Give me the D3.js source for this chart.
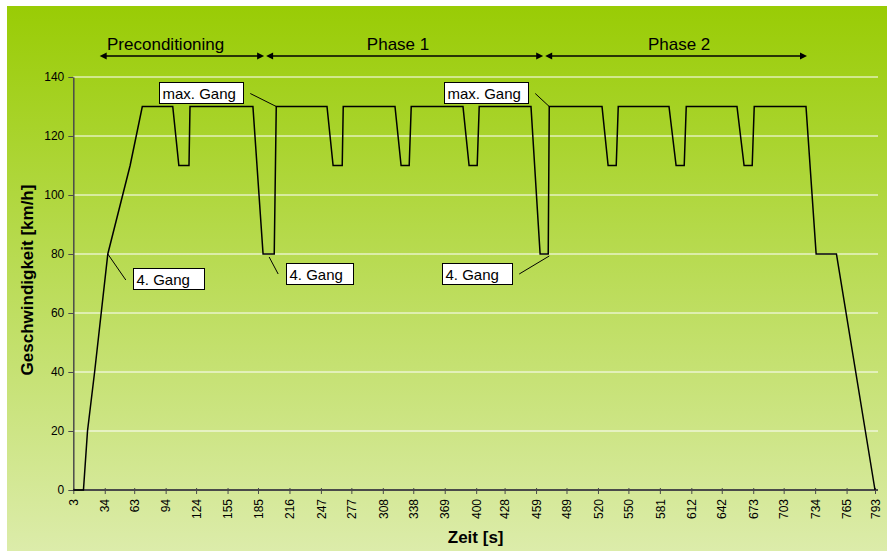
<!DOCTYPE html>
<html>
<head>
<meta charset="utf-8">
<script src="https://cdn.jsdelivr.net/npm/d3@7"></script>
<style>
  body { margin: 0; background: #fff; }
  svg { display: block; }
  text { font-family: Arial, "Liberation Sans", sans-serif; fill: #000; }
</style>
</head>
<body>
<svg id="chart" width="887" height="552"></svg>
<script>
// speed profile, time in s and speed in km/h
const times  = [3, 13, 17, 24, 37, 59, 71, 101, 107, 117, 118, 180, 190, 201, 203,
                253, 259, 268, 269, 320, 326, 334, 336, 387, 393, 401, 403, 454, 463, 471, 472,
                524, 530, 538, 540, 590, 597, 605, 607, 657, 664, 672, 674, 725, 735, 755, 793];
const speeds = [0, 0, 20, 40, 80, 110, 130, 130, 110, 110, 130, 130, 80, 80, 130,
                130, 110, 110, 130, 130, 110, 110, 130, 130, 110, 110, 130, 130, 80, 80, 130,
                130, 110, 110, 130, 130, 110, 110, 130, 130, 110, 110, 130, 130, 80, 80, 0];

const xTickLabels = [3, 34, 63, 94, 124, 155, 185, 216, 247, 277, 308, 338, 369, 400,
                     428, 459, 489, 520, 550, 581, 612, 642, 673, 703, 734, 765, 793];
const yTickLabels = [0, 20, 40, 60, 80, 100, 120, 140];

const phaseNames  = ["Preconditioning", "Phase 1", "Phase 2"];
const phaseStart  = [28, 192, 467];
const phaseEnd    = [192, 467, 727];
const phaseLabelT = [94, 323, 600];

const noteLabels = ["4. Gang", "max. Gang", "4. Gang", "max. Gang", "4. Gang"];
const noteTimes  = [37, 203, 196, 472, 471];
const noteSpeeds = [80, 130, 80, 130, 80];

const data = times.map((t, i) => ({ t: t, v: speeds[i] }));

const svg = d3.select("#chart");

// background gradient
const defs = svg.append("defs");
const grad = defs.append("linearGradient")
  .attr("id", "bg")
  .attr("x1", 0).attr("y1", 0).attr("x2", 0).attr("y2", 1);
grad.append("stop").attr("offset", "0%").attr("stop-color", "#99cc05");
grad.append("stop").attr("offset", "100%").attr("stop-color", "#dcecaa");

svg.append("rect")
  .attr("x", 7).attr("y", 6)
  .attr("width", 880).attr("height", 545)
  .attr("fill", "url(#bg)");

const x = d3.scaleLinear().domain([3, 793]).range([73.3, 875]);
const y = d3.scaleLinear().domain([0, 140]).range([490, 77]);
const plotRight = 878;

// gridlines
svg.append("g")
  .selectAll("line")
  .data(yTickLabels.filter(d => d > 0))
  .enter()
  .append("line")
  .attr("x1", x(3)).attr("x2", plotRight)
  .attr("y1", d => y(d)).attr("y2", d => y(d))
  .attr("stroke", "#ffffff")
  .attr("stroke-width", 1);

// y axis
const yAxis = svg.append("g")
  .attr("transform", `translate(${x(3)},0)`)
  .call(d3.axisLeft(y).tickValues(yTickLabels).tickSize(5).tickSizeOuter(0).tickPadding(4));

yAxis.select(".domain").attr("stroke", "#4a4a4a").attr("stroke-width", 1.5);
yAxis.selectAll(".tick line").attr("stroke", "#4a4a4a");
yAxis.selectAll("text")
  .style("font-size", "12px")
  .attr("fill", "#000");

// x axis
const xAxis = svg.append("g")
  .attr("transform", `translate(0,${y(0)})`)
  .call(d3.axisBottom(x).tickValues(xTickLabels).tickSize(4).tickSizeOuter(0));

xAxis.select(".domain")
  .attr("d", `M${x(3)},0H${plotRight}`)
  .attr("stroke", "#4a4a4a").attr("stroke-width", 2);
xAxis.selectAll(".tick line").attr("stroke", "#4a4a4a").attr("y1", -2);
xAxis.selectAll("text")
  .attr("transform", "rotate(-90)")
  .attr("x", -9)
  .attr("y", 0)
  .attr("dy", ".35em")
  .style("text-anchor", "end")
  .style("font-size", "12px")
  .attr("fill", "#000");

// speed line
const line = d3.line()
  .x(d => x(d.t))
  .y(d => y(d.v));

svg.append("path")
  .datum(data)
  .attr("d", line)
  .attr("fill", "none")
  .attr("stroke", "#000")
  .attr("stroke-width", 1.5)
  .attr("stroke-linejoin", "miter");

// axis titles
svg.append("text")
  .attr("transform", "translate(33,280) rotate(-90)")
  .attr("text-anchor", "middle")
  .style("font-size", "17px")
  .style("font-weight", "bold")
  .text("Geschwindigkeit [km/h]");

svg.append("text")
  .attr("x", (x(3) + plotRight) / 2)
  .attr("y", 543)
  .attr("text-anchor", "middle")
  .style("font-size", "17px")
  .style("font-weight", "bold")
  .text("Zeit [s]");

// phase arrows
const arrowY = 56;
const phases = svg.append("g");
phaseNames.forEach((name, i) => {
  const a = x(phaseStart[i]) + 1;
  const b = x(phaseEnd[i]) - 1;
  phases.append("line")
    .attr("x1", a + 4).attr("x2", b - 4)
    .attr("y1", arrowY).attr("y2", arrowY)
    .attr("stroke", "#000").attr("stroke-width", 1.5);
  phases.append("path")
    .attr("d", `M${a},${arrowY}L${a + 7},${arrowY - 3.5}L${a + 7},${arrowY + 3.5}Z`)
    .attr("fill", "#000");
  phases.append("path")
    .attr("d", `M${b},${arrowY}L${b - 7},${arrowY - 3.5}L${b - 7},${arrowY + 3.5}Z`)
    .attr("fill", "#000");
  phases.append("text")
    .attr("x", x(phaseLabelT[i]))
    .attr("y", 50)
    .attr("text-anchor", "middle")
    .style("font-size", "17px")
    .text(name);
});

// annotations: leader end and box placed relative to the anchor point
const noteLeader = [[18, 26], [-26, -13], [9, 20], [-14, -13], [-29, 20]];
const noteBox    = [[25, 14], [-117, -24], [17, 9], [-105, -24], [-106, 9]];
const noteWidth  = [71, 84, 67, 84, 70];
const noteStart  = [[0, 0], [0, 0], [0, 3], [0, 0], [1, 2]];

const notes = svg.append("g");
noteLabels.forEach((label, i) => {
  const px = x(noteTimes[i]);
  const py = y(noteSpeeds[i]);
  notes.append("line")
    .attr("x1", px + noteStart[i][0]).attr("y1", py + noteStart[i][1])
    .attr("x2", px + noteLeader[i][0]).attr("y2", py + noteLeader[i][1])
    .attr("stroke", "#000").attr("stroke-width", 1);
  const bx = Math.round(px + noteBox[i][0]) + 0.5;
  const by = Math.round(py + noteBox[i][1]) + 0.5;
  notes.append("rect")
    .attr("x", bx).attr("y", by)
    .attr("width", noteWidth[i]).attr("height", 21)
    .attr("fill", "#fff")
    .attr("stroke", "#000").attr("stroke-width", 1);
  notes.append("text")
    .attr("x", bx + 3)
    .attr("y", by + 16)
    .style("font-size", "15px")
    .text(label);
});
</script>
</body>
</html>
